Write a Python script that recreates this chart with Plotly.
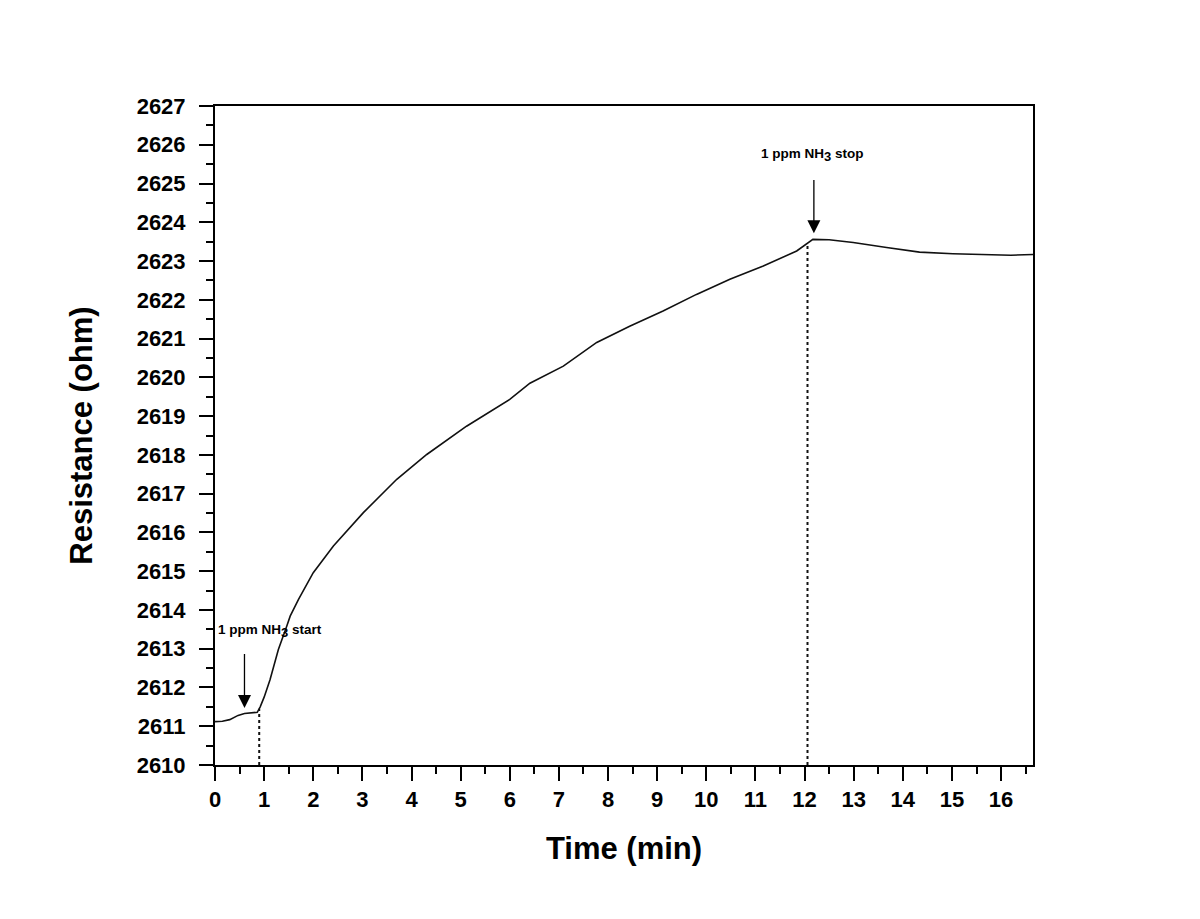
import plotly.graph_objects as go

time_min = [0.0, 0.15, 0.3, 0.47, 0.6, 0.75, 0.86, 0.92, 1.0, 1.12, 1.29, 1.46, 1.53, 1.7,
            2.0, 2.41, 3.02, 3.70, 4.31, 5.12, 6.0, 6.41, 7.09, 7.77, 8.44, 9.12, 9.80,
            10.48, 11.16, 11.84, 12.07, 12.17, 12.5, 12.99, 13.67, 14.34, 15.02, 15.7, 16.2, 16.65]
resistance = [2611.12, 2611.13, 2611.17, 2611.28, 2611.33, 2611.35, 2611.36, 2611.5, 2611.75,
              2612.2, 2612.98, 2613.58, 2613.84, 2614.27, 2614.96, 2615.65, 2616.51, 2617.37,
              2618.01, 2618.74, 2619.43, 2619.85, 2620.29, 2620.90, 2621.32, 2621.71, 2622.14,
              2622.53, 2622.87, 2623.26, 2623.46, 2623.56, 2623.55, 2623.48, 2623.35, 2623.23,
              2623.19, 2623.16, 2623.15, 2623.17]

# Gas on/off event markers
event_x = [0.9, 12.06]
event_top = [2611.45, 2623.42]
event_bottom = [2610.0, 2610.0]

arrow_x = [0.6, 12.19]
arrow_tail = [2612.9, 2625.13]
arrow_tip = [2611.47, 2623.72]
label_x = [1.12, 12.17]
label_y = [2613.45, 2625.73]
sub3 = "<sub><span style='font-size:13px'>3</span></sub>"
labels = [f"1 ppm NH{sub3} start", f"1 ppm NH{sub3} stop"]

x_ticks = list(range(0, 17))
y_ticks = list(range(2610, 2628))

FONT = "Liberation Sans, Arial, sans-serif"

fig = go.Figure()
fig.add_trace(go.Scatter(x=time_min, y=resistance, mode="lines",
                         line=dict(color="#111111", width=1.6), showlegend=False))
for i in range(len(event_x)):
    fig.add_trace(go.Scatter(x=[event_x[i], event_x[i]], y=[event_bottom[i], event_top[i]],
                             mode="lines", line=dict(color="#111111", width=2, dash="dot"),
                             showlegend=False))
for i in range(len(arrow_x)):
    fig.add_annotation(x=arrow_x[i], y=arrow_tip[i], ax=arrow_x[i], ay=arrow_tail[i],
                       xref="x", yref="y", axref="x", ayref="y", text="",
                       showarrow=True, arrowhead=2, arrowsize=2.0, arrowwidth=1.3,
                       arrowcolor="black")
    fig.add_annotation(x=label_x[i], y=label_y[i], xref="x", yref="y", text=f"<b>{labels[i]}</b>",
                       showarrow=False, font=dict(family=FONT, size=13.5, color="black"))

axis_common = dict(showline=True, linecolor="black", linewidth=2, mirror=True,
                   ticks="outside", ticklen=14, tickwidth=2, tickcolor="black",
                   showgrid=False, zeroline=False,
                   tickfont=dict(family=FONT, size=22, color="black"))

fig.update_xaxes(range=[0, 16.65], tickvals=x_ticks, ticktext=[f"<b>{v}</b>" for v in x_ticks],
                 minor=dict(ticks="outside", ticklen=7, tickwidth=2, tickcolor="black", dtick=0.5,
                            tick0=0, showgrid=False),
                 title=dict(text="<b>Time (min)</b>", font=dict(family=FONT, size=31, color="black"),
                            standoff=26),
                 **axis_common)
fig.update_yaxes(range=[2610, 2627], tickvals=y_ticks, ticktext=[f"<b>{v}</b>" for v in y_ticks],
                 minor=dict(ticks="outside", ticklen=7, tickwidth=2, tickcolor="black", dtick=0.5,
                            tick0=2610, showgrid=False),
                 ticklabelstandoff=9,
                 title=dict(text="<b>Resistance (ohm)</b>", font=dict(family=FONT, size=31, color="black"),
                            standoff=35),
                 **axis_common)

fig.update_layout(width=1200, height=919, plot_bgcolor="white", paper_bgcolor="white",
                  margin=dict(l=207, r=175, t=98, b=162, autoexpand=False))
fig.write_html("out.html")
